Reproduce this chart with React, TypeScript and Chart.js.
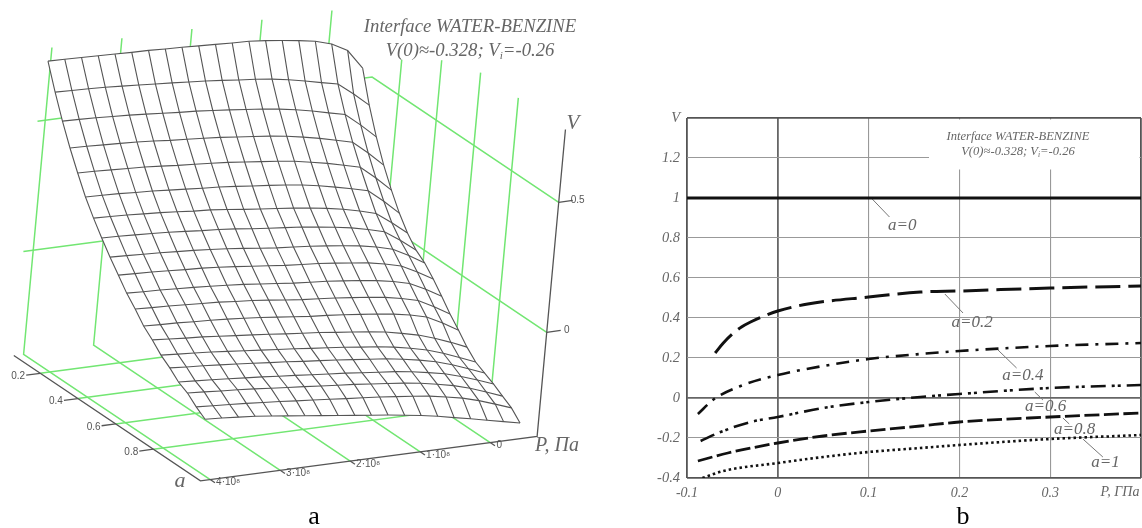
import React, { useEffect, useRef } from "react";
import { Chart, registerables } from "chart.js";

Chart.register(...registerables);

// ---------- panel a: surface V(a, P) ----------
const pressures = [-0.55, -0.31, -0.07, 0.17, 0.41, 0.65, 0.89, 1.13, 1.37, 1.61, 1.85, 2.09, 2.33, 2.57, 2.81, 3.05, 3.29, 3.53, 3.77, 4.01];
const fractions = [0.05, 0.1, 0.15, 0.2, 0.25, 0.3, 0.35, 0.4, 0.45, 0.5, 0.55, 0.6, 0.65, 0.7, 0.75, 0.8, 0.85, 0.9, 0.95, 1];
const surfaceV = [
  [0.534, 0.61, 0.644, 0.663, 0.674, 0.683, 0.691, 0.697, 0.699, 0.702, 0.705, 0.708, 0.71, 0.713, 0.714, 0.716, 0.718, 0.72, 0.722, 0.723],
  [0.416, 0.467, 0.514, 0.528, 0.543, 0.556, 0.567, 0.575, 0.581, 0.588, 0.594, 0.599, 0.604, 0.608, 0.613, 0.617, 0.621, 0.624, 0.626, 0.628],
  [0.318, 0.372, 0.421, 0.436, 0.452, 0.465, 0.476, 0.485, 0.492, 0.499, 0.505, 0.511, 0.515, 0.52, 0.525, 0.53, 0.533, 0.537, 0.539, 0.541],
  [0.234, 0.289, 0.339, 0.355, 0.371, 0.384, 0.396, 0.405, 0.412, 0.419, 0.426, 0.431, 0.436, 0.44, 0.446, 0.451, 0.454, 0.457, 0.46, 0.462],
  [0.162, 0.217, 0.267, 0.283, 0.299, 0.312, 0.324, 0.333, 0.34, 0.347, 0.354, 0.359, 0.364, 0.368, 0.374, 0.379, 0.382, 0.385, 0.388, 0.39],
  [0.098, 0.152, 0.201, 0.217, 0.232, 0.246, 0.257, 0.266, 0.273, 0.279, 0.286, 0.292, 0.296, 0.301, 0.306, 0.311, 0.314, 0.318, 0.32, 0.322],
  [0.046, 0.094, 0.138, 0.156, 0.171, 0.183, 0.193, 0.201, 0.208, 0.215, 0.222, 0.23, 0.237, 0.241, 0.247, 0.252, 0.256, 0.26, 0.263, 0.265],
  [0.005, 0.051, 0.092, 0.109, 0.124, 0.135, 0.144, 0.153, 0.159, 0.165, 0.172, 0.18, 0.186, 0.19, 0.196, 0.201, 0.205, 0.208, 0.211, 0.213],
  [-0.021, 0.016, 0.049, 0.066, 0.079, 0.088, 0.096, 0.103, 0.109, 0.114, 0.121, 0.129, 0.136, 0.142, 0.147, 0.151, 0.155, 0.158, 0.161, 0.164],
  [-0.058, -0.023, 0.009, 0.025, 0.038, 0.046, 0.054, 0.061, 0.066, 0.071, 0.078, 0.085, 0.092, 0.098, 0.103, 0.106, 0.11, 0.114, 0.116, 0.119],
  [-0.1, -0.065, -0.034, -0.018, -0.006, 0.003, 0.01, 0.017, 0.022, 0.027, 0.034, 0.041, 0.048, 0.053, 0.058, 0.062, 0.065, 0.069, 0.071, 0.074],
  [-0.144, -0.108, -0.075, -0.059, -0.046, -0.037, -0.03, -0.023, -0.017, -0.012, -0.005, 0.003, 0.01, 0.015, 0.021, 0.024, 0.028, 0.032, 0.034, 0.037],
  [-0.182, -0.146, -0.114, -0.098, -0.086, -0.077, -0.07, -0.063, -0.057, -0.052, -0.045, -0.038, -0.031, -0.025, -0.02, -0.016, -0.013, -0.009, -0.007, -0.004],
  [-0.223, -0.196, -0.172, -0.151, -0.136, -0.122, -0.113, -0.105, -0.098, -0.09, -0.084, -0.078, -0.071, -0.065, -0.059, -0.053, -0.047, -0.043, -0.038, -0.033],
  [-0.256, -0.23, -0.205, -0.184, -0.169, -0.156, -0.146, -0.139, -0.131, -0.124, -0.118, -0.111, -0.105, -0.099, -0.093, -0.087, -0.081, -0.076, -0.072, -0.067],
  [-0.274, -0.249, -0.225, -0.205, -0.19, -0.178, -0.168, -0.161, -0.154, -0.147, -0.141, -0.135, -0.128, -0.123, -0.117, -0.111, -0.106, -0.101, -0.097, -0.092],
  [-0.292, -0.268, -0.246, -0.227, -0.214, -0.202, -0.193, -0.187, -0.18, -0.173, -0.168, -0.162, -0.156, -0.151, -0.145, -0.14, -0.135, -0.13, -0.126, -0.122],
  [-0.314, -0.29, -0.267, -0.248, -0.234, -0.222, -0.213, -0.206, -0.199, -0.192, -0.187, -0.181, -0.175, -0.17, -0.164, -0.158, -0.153, -0.149, -0.144, -0.14],
  [-0.335, -0.312, -0.29, -0.272, -0.259, -0.247, -0.239, -0.232, -0.225, -0.219, -0.214, -0.208, -0.202, -0.197, -0.191, -0.186, -0.181, -0.177, -0.173, -0.169],
  [-0.369, -0.355, -0.341, -0.327, -0.314, -0.3, -0.289, -0.279, -0.27, -0.262, -0.254, -0.246, -0.238, -0.23, -0.222, -0.214, -0.206, -0.201, -0.196, -0.192],
];
const floorV = -0.4;
const topV = 0.78;
const boxA = [0.06, 1.05];
const boxP = [-0.67, 4.14];
const pTicks = [0, 1, 2, 3, 4];
const aTicks = [0.2, 0.4, 0.6, 0.8];
const vTicks = [0, 0.5];
const backWallStarts = [4.14, 4.11];
const sideWallTops = [0.635, 0.73, 0.78, 0.78];
const pTickLabels = ["0", "1·10⁸", "2·10⁸", "3·10⁸", "4·10⁸"];
const aTickLabels = ["0.2", "0.4", "0.6", "0.8"];
const vTickLabels = ["0", "0.5"];

// ---------- panel b: curves V(P) ----------
const curveA02 = [[-0.069, 0.225], [-0.06, 0.275], [-0.05, 0.32], [-0.04, 0.355], [-0.03, 0.38], [-0.015, 0.41], [0, 0.435], [0.033, 0.47], [0.1, 0.505], [0.157, 0.53], [0.2, 0.535], [0.3, 0.55], [0.4, 0.56]];
const curveA04 = [[-0.088, -0.08], [-0.07, -0.005], [-0.041, 0.06], [0, 0.115], [0.05, 0.16], [0.1, 0.195], [0.157, 0.22], [0.2, 0.235], [0.3, 0.26], [0.4, 0.275]];
const curveA06 = [[-0.085, -0.215], [-0.063, -0.17], [-0.03, -0.12], [0, -0.095], [0.05, -0.05], [0.1, -0.02], [0.157, 0.005], [0.2, 0.02], [0.3, 0.05], [0.4, 0.065]];
const curveA08 = [[-0.088, -0.315], [-0.055, -0.275], [0, -0.225], [0.05, -0.19], [0.1, -0.165], [0.157, -0.14], [0.2, -0.12], [0.3, -0.095], [0.4, -0.075]];
const curveA10 = [[-0.083, -0.4], [-0.06, -0.365], [0, -0.325], [0.05, -0.295], [0.1, -0.27], [0.157, -0.25], [0.2, -0.235], [0.3, -0.205], [0.4, -0.185]];
const curveA00 = [[-0.1, 1], [0.4, 1]];
const curveLabels = ["a=0", "a=0.2", "a=0.4", "a=0.6", "a=0.8", "a=1"];
const labelAnchors = [[0.137, 0.86], [0.214, 0.375], [0.27, 0.11], [0.295, -0.045], [0.327, -0.16], [0.361, -0.325]];
const leaderLines = [
  [[0.104, 0.995], [0.123, 0.905]],
  [[0.184, 0.52], [0.204, 0.425]],
  [[0.2425, 0.24], [0.263, 0.15]],
  [[0.283, 0.03], [0.292, -0.01]],
  [[0.314, -0.1], [0.321, -0.13]],
  [[0.336, -0.205], [0.358, -0.295]],
];
const xTickVals = [-0.1, 0, 0.1, 0.2, 0.3, 0.4];
const xTickLabels = ["-0.1", "0", "0.1", "0.2", "0.3", ""];
const yTickVals = [-0.4, -0.2, 0, 0.2, 0.4, 0.6, 0.8, 1, 1.2, 1.4];
const yTickLabels = ["-0.4", "-0.2", "0", "0.2", "0.4", "0.6", "0.8", "1", "1.2", "V"];

const SERIF = "'Liberation Serif', serif";
const SANS = "'Liberation Sans', sans-serif";
const TEXT = "#666";
const GREEN = "#72e672";
const MESH = "#555";

const project = (a: number, P: number, V: number) => ({
  x: 50 + 37.7 * (5 * a - 1) + 70 * (4 - P) + 24 * (V - floorV),
  y: 372 + 25.3 * (5 * a - 1) - 9.25 * (4 - P) - 260 * (V - floorV),
});

type Txt = { t: string; x: number; y: number; font: string; color?: string; align?: CanvasTextAlign };

const drawTexts = (ctx: CanvasRenderingContext2D, items: Txt[]) => {
  ctx.save();
  ctx.textBaseline = "middle";
  for (const i of items) {
    ctx.font = i.font;
    ctx.fillStyle = i.color ?? TEXT;
    ctx.textAlign = i.align ?? "center";
    ctx.fillText(i.t, i.x, i.y);
  }
  ctx.restore();
};

const drawTitle = (ctx: CanvasRenderingContext2D, cx: number, y1: number, y2: number, size: number) => {
  const main = `italic ${size}px ${SERIF}`;
  const sub = `italic ${size * 0.6}px ${SERIF}`;
  ctx.save();
  ctx.font = main;
  const a = "V(0)≈-0.328; V";
  const c = "=-0.26";
  const wa = ctx.measureText(a).width;
  const wc = ctx.measureText(c).width;
  ctx.font = sub;
  const wb = ctx.measureText("i").width;
  ctx.restore();
  const start = cx - (wa + wb + wc) / 2;
  drawTexts(ctx, [
    { t: "Interface WATER-BENZINE", x: cx, y: y1, font: main },
    { t: a, x: start, y: y2, font: main, align: "left" },
    { t: "i", x: start + wa, y: y2 + size * 0.25, font: sub, align: "left" },
    { t: c, x: start + wa + wb, y: y2, font: main, align: "left" },
  ]);
};

const line3d = (pts: number[][], color: string, width: number, order: number) => ({
  data: pts.map(([a, P, V]) => project(a, P, V)),
  borderColor: color,
  borderWidth: width,
  order,
  fill: false,
});

function buildSurfaceChart(canvas: HTMLCanvasElement) {
  const datasets: any[] = [];
  const green = (pts: number[][]) => datasets.push(line3d(pts, GREEN, 1.5, 3));
  const black = (pts: number[][], w = 1.3) => datasets.push(line3d(pts, "#555", w, 0));

  for (const P of pTicks) {
    green([[boxA[0], P, topV], [boxA[0], P, floorV], [boxA[1], P, floorV]]);
    black([[boxA[1], P, floorV], [boxA[1] + 0.025, P, floorV]]);
  }
  aTicks.forEach((a, i) => {
    green([[a, boxP[0], sideWallTops[i]], [a, boxP[0], floorV], [a, boxP[1], floorV]]);
    black([[a, boxP[1], floorV], [a, boxP[1] + 0.2, floorV]]);
  });
  vTicks.forEach((V, i) => {
    green([[boxA[0], backWallStarts[i], V], [boxA[0], boxP[0], V], [boxA[1], boxP[0], V]]);
    black([[boxA[1], boxP[0], V], [boxA[1], boxP[0] - 0.2, V]]);
  });
  black([[boxA[0], boxP[1], floorV], [boxA[1], boxP[1], floorV], [boxA[1], boxP[0], floorV], [boxA[1], boxP[0], topV]]);

  const last = fractions.length - 1;
  const outline = [
    ...pressures.map((P, j) => project(fractions[0], P, surfaceV[0][j])),
    ...fractions.map((a, i) => project(a, pressures[last], surfaceV[i][last])),
    ...pressures.map((P, j) => project(fractions[last], P, surfaceV[last][j])).reverse(),
    ...fractions.map((a, i) => project(a, pressures[0], surfaceV[i][0])).reverse(),
  ];
  datasets.push({ data: outline, borderWidth: 0, borderColor: "rgba(0,0,0,0)", backgroundColor: "#fff", fill: "shape", order: 2 });
  fractions.forEach((a, i) => {
    datasets.push(line3d(pressures.map((P, j) => [a, P, surfaceV[i][j]]), MESH, 1.1, 1));
  });
  pressures.forEach((P, j) => {
    datasets.push(line3d(fractions.map((a, i) => [a, P, surfaceV[i][j]]), MESH, 1.1, 1));
  });

  const labels = {
    id: "labelsA",
    afterDraw(chart: any) {
      const ctx = chart.ctx;
      const small = `10px ${SANS}`;
      const items: Txt[] = [
        { t: "V", x: 573, y: 123, font: `italic 21px ${SERIF}` },
        { t: "a", x: 180, y: 481, font: `italic 22px ${SERIF}` },
        { t: "P, Па", x: 557, y: 446, font: `italic 20px ${SERIF}` },
        { t: "a", x: 314, y: 517, font: `26px ${SERIF}`, color: "#000" },
      ];
      pTicks.forEach((P, i) => {
        const p = project(boxA[1], P, floorV);
        items.push({ t: pTickLabels[i], x: p.x + (i === 0 ? 9 : 18), y: p.y + 3, font: small, color: "#555" });
      });
      aTicks.forEach((a, i) => {
        const p = project(a, boxP[1], floorV);
        items.push({ t: aTickLabels[i], x: p.x - 22, y: p.y + 3, font: small, color: "#555" });
      });
      vTicks.forEach((V, i) => {
        const p = project(boxA[1], boxP[0], V);
        items.push({ t: vTickLabels[i], x: p.x + (i === 0 ? 20 : 19), y: p.y - 2, font: small, color: "#555" });
      });
      drawTexts(ctx, items);
      drawTitle(ctx, 470, 27, 51, 18.7);
    },
  };

  return new Chart(canvas, {
    type: "line",
    data: { datasets },
    plugins: [labels],
    options: {
      animation: false,
      responsive: false,
      elements: { point: { radius: 0 }, line: { tension: 0 } },
      layout: { padding: 0 },
      plugins: { legend: { display: false }, tooltip: { enabled: false } },
      scales: {
        x: { type: "linear", min: 0, max: 600, display: false },
        y: { type: "linear", min: 0, max: 528, reverse: true, display: false },
      },
    },
  } as any);
}

function buildCurvesChart(canvas: HTMLCanvasElement) {
  const toXY = (pts: number[][]) => pts.map(([x, y]) => ({ x, y }));
  const curve = (pts: number[][], width: number, dash: number[]) => ({
    data: toXY(pts),
    borderColor: "#111",
    borderWidth: width,
    borderDash: dash,
    cubicInterpolationMode: "monotone",
    borderCapStyle: "butt",
    fill: false,
  });
  const datasets: any[] = [
    curve(curveA00, 3, []),
    curve(curveA02, 3, [25, 8]),
    curve(curveA04, 2.6, [13, 7, 3, 7]),
    curve(curveA06, 2.6, [15, 6, 3, 3, 3, 6]),
    curve(curveA08, 2.8, [15, 4.5]),
    curve(curveA10, 2.6, [2.5, 3]),
    ...leaderLines.map((l) => ({ data: toXY(l), borderColor: "#777", borderWidth: 1, fill: false })),
  ];

  const isEdge = (v: number, lo: number, hi: number) => Math.abs(v - lo) < 1e-6 || Math.abs(v - hi) < 1e-6;
  const gridColor = (lo: number, hi: number) => (c: any) => {
    const v = c.tick?.value ?? 0;
    if (isEdge(v, lo, hi)) return "#555";
    return Math.abs(v) < 1e-6 ? "#666" : "#999";
  };
  const gridWidth = (lo: number, hi: number) => (c: any) => {
    const v = c.tick?.value ?? 0;
    if (isEdge(v, lo, hi)) return 1.8;
    return Math.abs(v) < 1e-6 ? 1.8 : 1.1;
  };

  const mask = {
    id: "titleMask",
    beforeDatasetsDraw(chart: any) {
      const { ctx, chartArea } = chart;
      ctx.save();
      ctx.fillStyle = "#fff";
      ctx.fillRect(chartArea.right - 212, chartArea.top + 1.5, 210.5, 50);
      ctx.restore();
    },
    afterDraw(chart: any) {
      const { ctx, scales } = chart;
      const items: Txt[] = curveLabels.map((t, i) => ({
        t,
        x: scales.x.getPixelForValue(labelAnchors[i][0]),
        y: scales.y.getPixelForValue(labelAnchors[i][1]),
        font: `italic 17px ${SERIF}`,
      }));
      items.push({ t: "P, ГПа", x: 520, y: 492, font: `italic 14px ${SERIF}` });
      items.push({ t: "b", x: 363, y: 517, font: `26px ${SERIF}`, color: "#000" });
      drawTexts(ctx, items);
      drawTitle(ctx, 418, 137, 152, 12.6);
    },
  };

  const labelFor = (vals: number[], labels: string[]) => (v: number) => {
    const i = vals.findIndex((x) => Math.abs(x - v) < 1e-6);
    return i >= 0 ? labels[i] : "";
  };

  return new Chart(canvas, {
    type: "line",
    data: { datasets },
    plugins: [mask],
    options: {
      animation: false,
      responsive: false,
      elements: { point: { radius: 0 }, line: { tension: 0 } },
      layout: { padding: { top: 118, right: 1, bottom: 0, left: 0 } },
      plugins: { legend: { display: false }, tooltip: { enabled: false } },
      scales: {
        x: {
          type: "linear",
          min: -0.1,
          max: 0.4,
          afterFit: (s: any) => { s.height = 50; s.paddingLeft = 0; s.paddingRight = 0; },
          border: { display: false },
          grid: { color: gridColor(-0.1, 0.4), lineWidth: gridWidth(-0.1, 0.4), drawTicks: false },
          afterBuildTicks: (s: any) => { s.ticks = xTickVals.map((value) => ({ value })); },
          ticks: {
            autoSkip: false,
            maxRotation: 0,
            padding: 7,
            color: TEXT,
            font: { family: SERIF, style: "italic", size: 14 },
            callback: labelFor(xTickVals, xTickLabels),
          },
        },
        y: {
          type: "linear",
          min: -0.4,
          max: 1.4,
          afterFit: (s: any) => { s.width = 87; s.paddingTop = 0; s.paddingBottom = 0; },
          border: { display: false },
          grid: { color: gridColor(-0.4, 1.4), lineWidth: gridWidth(-0.4, 1.4), drawTicks: false },
          afterBuildTicks: (s: any) => { s.ticks = yTickVals.map((value) => ({ value })); },
          ticks: {
            autoSkip: false,
            padding: 7,
            color: TEXT,
            font: { family: SERIF, style: "italic", size: 14.5 },
            callback: labelFor(yTickVals, yTickLabels),
          },
        },
      },
    },
  } as any);
}

export default function App() {
  const left = useRef<HTMLCanvasElement>(null);
  const right = useRef<HTMLCanvasElement>(null);
  useEffect(() => {
    const a = buildSurfaceChart(left.current!);
    const b = buildCurvesChart(right.current!);
    return () => {
      a.destroy();
      b.destroy();
    };
  }, []);
  return (
    <div style={{ position: "fixed", left: 0, top: 0, width: 1142, height: 528, background: "#fff", overflow: "hidden" }}>
      <canvas ref={left} width={600} height={528} style={{ position: "absolute", left: 0, top: 0, width: 600, height: 528 }} />
      <canvas ref={right} width={542} height={528} style={{ position: "absolute", left: 600, top: 0, width: 542, height: 528 }} />
    </div>
  );
}
